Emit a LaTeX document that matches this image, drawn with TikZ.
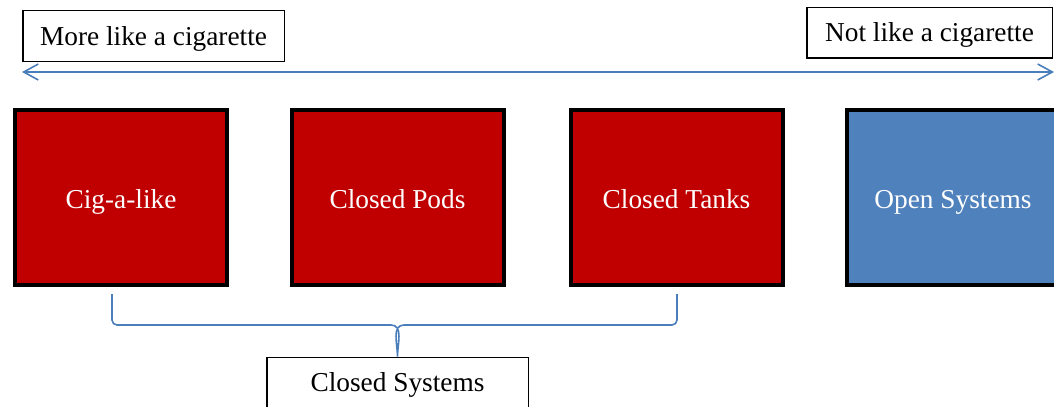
\documentclass[tikz,border=0pt]{standalone}
\usepackage{fontspec}
\setmainfont{Liberation Serif}
\usetikzlibrary{positioning,arrows.meta}

\definecolor{cigred}{HTML}{C00000}
\definecolor{openblue}{HTML}{4F81BD}
\definecolor{lineblue}{HTML}{4A7EBB}

\tikzset{
  sysbox/.style={draw=black, line width=3pt, minimum width=159pt, minimum height=131pt,
    text=white, font=\fontsize{20.5}{24}\selectfont, inner sep=0pt, text height=19pt, text depth=2pt},
  tagbox/.style={draw=black, line width=1pt, fill=white, minimum width=196pt, minimum height=38pt,
    font=\fontsize{20.5}{24}\selectfont, inner sep=0pt, text height=17pt, text depth=3pt},
  scaleline/.style={lineblue, line width=1.2pt, {Straight Barb[length=11pt,width=12pt]}-{Straight Barb[length=11pt,width=12pt]}},
  bracket/.style={lineblue, line width=1.2pt}
}

\begin{document}
\begin{tikzpicture}[x=0.75pt,y=-0.75pt]
                \useasboundingbox (0,0) rectangle (1054,407);
                \clip (0,0) rectangle (1054,407);
                % Labels on top
                \node [tagbox] (morelabel) at (153.5,36) {More like a cigarette};
                \node [tagbox, minimum width=184pt] (notlabel) at (929.5,32.5) {Not like a cigarette};
                % Scale arrow
                \coordinate (scaleL) at (22,72);
                \coordinate (scaleR) at (1054,72);
                \draw [scaleline] (scaleL) -- (scaleR);
                % Device boxes
                \node [sysbox, fill=cigred] (cigbox) at (121,197.5) {Cig-a-like};
                \node [sysbox, fill=cigred] (podbox) at (397.5,197.5) {Closed Pods};
                \node [sysbox, fill=cigred] (tankbox) at (676.5,197.5) {Closed Tanks};
                \node [sysbox, fill=openblue] (openbox) at (953,197.5) {Open Systems};
                % Closed group
                \node [tagbox] (closedlabel) at (397.5,382.5) {Closed Systems};
                \coordinate (braceL) at (112,294);
                \coordinate (braceR) at (677,294);
                \draw [bracket] (braceL) -- (112,320) to[out=-90,in=180] (117,325)
                  -- (391,325) to[out=0,in=90] (closedlabel.north)
                  to[out=90,in=180] (404,325) -- (672,325) to[out=0,in=-90] (677,320) -- (braceR);
            \end{tikzpicture}
\end{document}
